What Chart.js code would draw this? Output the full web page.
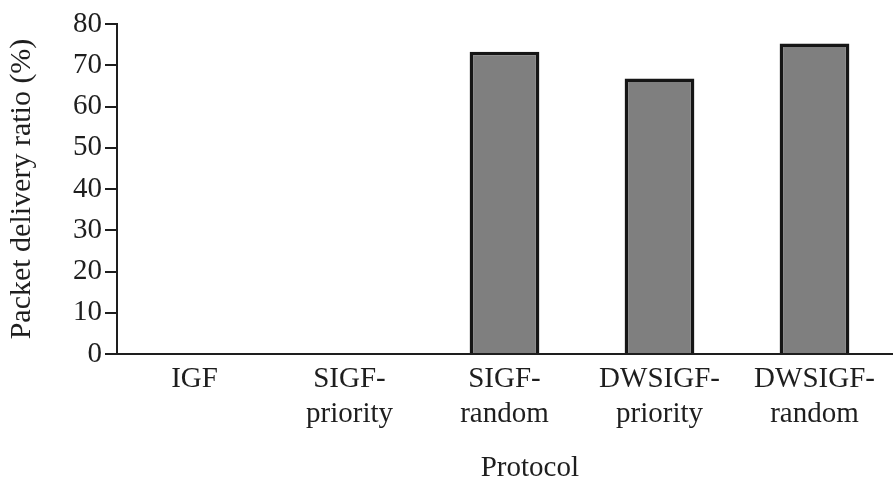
<!DOCTYPE html>
<html>
<head>
<meta charset="utf-8">
<script src="https://cdn.jsdelivr.net/npm/chart.js@4/dist/chart.umd.min.js"></script>
<style>
html,body{margin:0;padding:0;background:#fff;}
#wrap{width:896px;height:486px;position:relative;}
</style>
</head>
<body>
<div id="wrap"><canvas id="c" width="896" height="486"></canvas></div>
<script>
const categories = [["IGF"], ["SIGF-", "priority"], ["SIGF-", "random"], ["DWSIGF-", "priority"], ["DWSIGF-", "random"]];
const deliveryRatio = [0, 0, 73.3, 66.8, 75.3];
const yTicks = [0, 10, 20, 30, 40, 50, 60, 70, 80];
const xTitle = "\u00a0\u00a0\u00a0\u00a0\u00a0\u00a0\u00a0Protocol";
const yTitle = "Packet delivery ratio (%)";

const FONT = "'Liberation Serif', 'DejaVu Serif', serif";
const INK = "#1e1e1e";

new Chart(document.getElementById('c'), {
  type: 'bar',
  data: {
    labels: categories,
    datasets: [{
      data: deliveryRatio,
      backgroundColor: '#7f7f7f',
      borderColor: '#161616',
      borderWidth: 3.5,
      borderSkipped: 'bottom',
      barPercentage: 0.45,
      categoryPercentage: 1.0
    }]
  },
  options: {
    responsive: false,
    animation: false,
    devicePixelRatio: 1,
    layout: { padding: { top: 24, right: 4, left: 0, bottom: 0 } },
    plugins: { legend: { display: false }, tooltip: { enabled: false } },
    scales: {
      x: {
        offset: true,
        grid: { display: true, drawOnChartArea: false, drawTicks: false },
        border: { display: true, color: INK, width: 2 },
        ticks: {
          color: INK,
          padding: 8,
          maxRotation: 0,
          autoSkip: false,
          font: { family: FONT, size: 29, lineHeight: 1.2 }
        },
        title: {
          display: true,
          text: xTitle,
          color: INK,
          font: { family: FONT, size: 29 },
          padding: { top: 14, bottom: 0 }
        },
        afterFit: (s) => { s.height = 132; }
      },
      y: {
        min: 0,
        max: 80,
        afterBuildTicks: (s) => { s.ticks = yTicks.map(v => ({ value: v })); },
        grid: { display: true, drawOnChartArea: false, drawTicks: true, tickLength: 12, color: INK, lineWidth: 2 },
        border: { display: true, color: INK, width: 2 },
        ticks: {
          color: INK,
          padding: 3,
          font: { family: FONT, size: 29 }
        },
        title: {
          display: true,
          text: yTitle,
          color: INK,
          font: { family: FONT, size: 30 },
          padding: { top: 4, bottom: 0 }
        },
        afterFit: (s) => { s.width = 117; }
      }
    }
  }
});
</script>
</body>
</html>
